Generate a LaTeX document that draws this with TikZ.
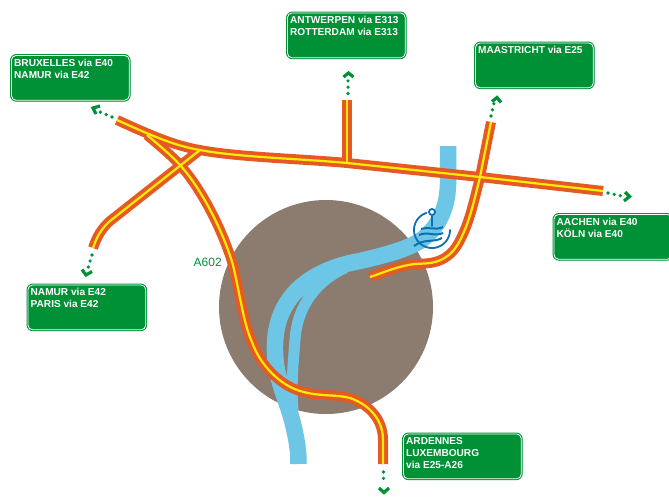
\documentclass[tikz,border=0pt]{standalone}
\usepackage{fontspec}
\setmainfont{Liberation Sans}
\definecolor{signgreen}{HTML}{009036}
\definecolor{roadorange}{HTML}{E55A24}
\definecolor{roadyellow}{HTML}{FFEC00}
\definecolor{river}{HTML}{6EC6E6}
\definecolor{iconblue}{HTML}{0A6FB5}
\definecolor{city}{HTML}{8C7B6F}
\tikzset{
  sign/.style={fill=signgreen,draw=signgreen,line width=1.2,rounded corners=6,minimum width=119.5,minimum height=46.5,anchor=north west,inner sep=0},
  signline/.style={white,line width=0.8,rounded corners=4.5},
  signtext/.style={anchor=north west,inner sep=0,text=white,font=\fontsize{10.1}{12}\selectfont\bfseries,align=left},
  roadedge/.style={draw=roadorange,line width=10},
  roadcore/.style={draw=roadyellow,line width=2.2},
  dots/.style={signgreen,line width=3.6,line cap=round,dash pattern=on 0pt off 6.3pt},
  chev/.style={signgreen,line width=3.2,line join=miter},
  riv/.style={draw=river},
}
\newcommand{\signat}[4]{%
  \node[sign] (#1) at (#2,#3) {};
  \draw[signline] ([shift={(1.5,1.5)}]#1.north west) rectangle ([shift={(-1.5,-1.5)}]#1.south east);
  \node[signtext] (#1t) at (#2+4,#3+4.5) {#4};
}
\begin{document}
\begin{tikzpicture}[x=1pt,y=-1pt]
\useasboundingbox (0,0) rectangle (669,501);
\fill[white] (0,0) rectangle (669,501);
\fill[city] (326,307) circle (107);
% river
\draw[riv,line width=16.5] (448,146) -- (448,185) .. controls (447,210) and (438,228) .. (420,241) .. controls (405,250) and (385,255) .. (360,261) .. controls (320,268) and (276,290) .. (275,345) .. controls (274,375) and (285,395) .. (292,420) .. controls (297,440) and (298.5,450) .. (298.5,464);
\draw[riv,line width=11] (345,268) .. controls (318,280) and (297,305) .. (295,340) .. controls (293,365) and (291,385) .. (293,410);
% roads
\coordinate (rwA) at (117,120);
\coordinate (reA) at (603,191);
\coordinate (jA) at (200,150);
\coordinate (jTop) at (347,163);
\coordinate (jM) at (480,177);
\coordinate (rN) at (93,248);
\coordinate (rT) at (347,100);
\coordinate (rM) at (491,122);
\coordinate (rMe) at (370,277);
\coordinate (rS) at (383,464);
\coordinate (bA) at (147,135);
\foreach \s in {roadedge,roadcore}{
  \draw[\s] (rT) -- (jTop);
  \draw[\s] (rN) .. controls (97,236) and (102,228) .. (110,221) -- (jA);
  \draw[\s] (bA) .. controls (160,146) and (172,156) .. (180,165) .. controls (200,187) and (222,228) .. (233,265) .. controls (240,295) and (244,325) .. (252,342) .. controls (260,365) and (280,385) .. (300,391) .. controls (320,397) and (335,394) .. (350,398) .. controls (370,405) and (383,420) .. (383,440) -- (rS);
  \draw[\s] (rMe) .. controls (385,272) and (398,266) .. (415,264) .. controls (425,263) and (445,266) .. (458,244) .. controls (468,226) and (472,210) .. (jM) -- (rM);
  \draw[\s] (rwA) .. controls (150,135) and (175,146) .. (jA) .. controls (235,157) and (305,159) .. (jTop) -- (jM) -- (reA);
}
% signs
\signat{s1}{10}{54}{BRUXELLES via E40\\NAMUR via E42}
\signat{s2}{286}{11.5}{ANTWERPEN via E313\\ROTTERDAM via E313}
\signat{s3}{474}{41.5}{MAASTRICHT via E25}
\signat{s4}{552.5}{213}{AACHEN via E40\\KÖLN via E40}
\signat{s5}{26.5}{283.5}{NAMUR via E42\\PARIS via E42}
\signat{s6}{402}{432.5}{ARDENNES\\LUXEMBOURG\\via E25-A26}
\node[anchor=west,inner sep=0,text=signgreen,font=\fontsize{12}{14}\selectfont] (a602) at (193.5,262.5) {A602};
% dotted leaders
\coordinate (dA1) at (112,117); \coordinate (dA2) at (100,112);
\draw[dots] (dA1) -- (dA2);
\draw[chev] (100,106) -- (93,108) -- (96,114);
\coordinate (dB1) at (348,93.5); \coordinate (dB2) at (348,79);
\draw[dots] (dB1) -- (dB2);
\draw[chev] (343.5,77) -- (348.5,73) -- (353.5,77);
\coordinate (dC1) at (491,116); \coordinate (dC2) at (494,103);
\draw[dots] (dC1) -- (dC2);
\draw[chev] (492,101.5) -- (497,97.5) -- (501,102.5);
\coordinate (dD1) at (608,193); \coordinate (dD2) at (622,196);
\draw[dots] (dD1) -- (dD2);
\draw[chev] (625,192) -- (629.5,196.5) -- (624,201);
\coordinate (dE1) at (92,255); \coordinate (dE2) at (88,268);
\draw[dots] (dE1) -- (dE2);
\draw[chev] (82,269.5) -- (86,275) -- (92,271.5);
\coordinate (dF1) at (383.5,472); \coordinate (dF2) at (383.5,484);
\draw[dots] (dF1) -- (dF2);
\draw[chev] (379,488) -- (384,492.5) -- (389,488);
% water icon
\draw[iconblue,line width=1.8,line cap=round] (432,215) -- (432,226);
\draw[iconblue,line width=1.8,line cap=round] plot[domain=-108:-360,samples=50] ({432+18*cos(\x)},{230+18*sin(\x)});
\draw[iconblue,line width=1.8,fill=white] (432,212) circle (3);
\draw[iconblue,line width=2] (421,229) .. controls (428,226) and (435,231) .. (443,227);
\draw[iconblue,line width=2] (419,235) .. controls (428,231) and (435,237) .. (443,233);
\draw[iconblue,line width=2] (414,246) .. controls (425,238) and (433,243) .. (442,238);
\end{tikzpicture}
\end{document}
